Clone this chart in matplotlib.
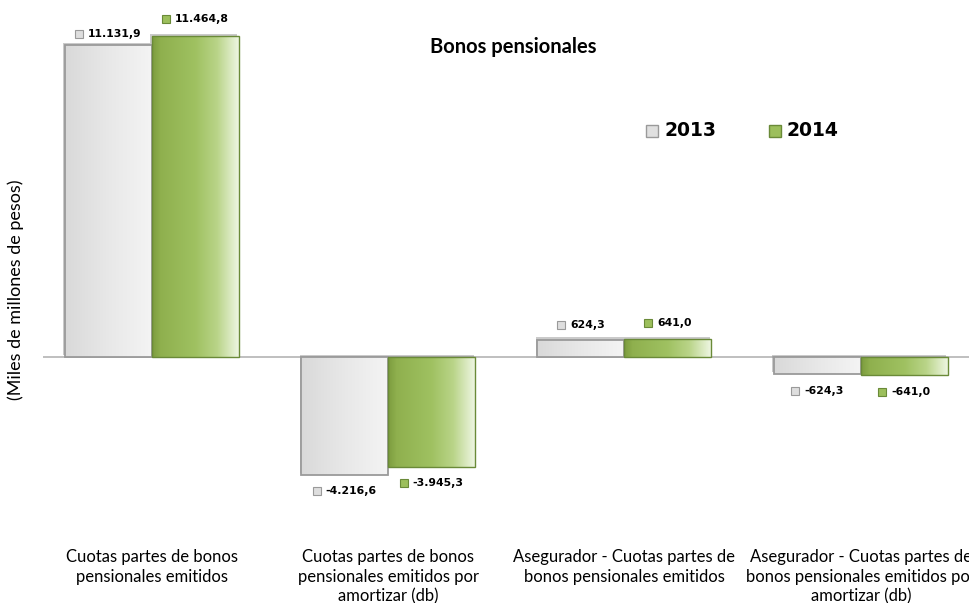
import numpy as np
import matplotlib
matplotlib.use("Agg")
import matplotlib.pyplot as plt
from matplotlib.colors import LinearSegmentedColormap
from matplotlib.patches import Rectangle
import matplotlib.patheffects as pe
import matplotlib.transforms as mtrans

categories = [
    "Cuotas partes de bonos\npensionales emitidos",
    "Cuotas partes de bonos\npensionales emitidos por\namortizar (db)",
    "Asegurador - Cuotas partes de\nbonos pensionales emitidos",
    "Asegurador - Cuotas partes de\nbonos pensionales emitidos por\namortizar (db)",
]
series_names = ["2013", "2014"]
values_2013 = [11131.9, -4216.6, 624.3, -624.3]
values_2014 = [11464.8, -3945.3, 641.0, -641.0]
labels_2013 = ["11.131,9", "-4.216,6", "624,3", "-624,3"]
labels_2014 = ["11.464,8", "-3.945,3", "641,0", "-641,0"]
title = "Bonos pensionales"
ylabel = "(Miles de millones de pesos)"

W, H = 969, 603
fig = plt.figure(figsize=(W / 100, H / 100), dpi=100)
fig.patch.set_facecolor("white")

ax_left, ax_right = 43, 979
ax_top, ax_bot = 10, 540
ax = fig.add_axes([ax_left / W, (H - ax_bot) / H, (ax_right - ax_left) / W, (ax_bot - ax_top) / H])
ax.set_facecolor("none")

zero_px = 357
ppu = 0.028  # pixels per unit
ymax = (zero_px - ax_top) / ppu
ymin = -(ax_bot - zero_px) / ppu

green_cmap = LinearSegmentedColormap.from_list(
    "g", [(0, "#7c9c3e"), (0.1, "#8fb04e"), (0.5, "#9fc161"), (0.75, "#b9d488"), (1, "#eef6e2")])
gray_cmap = LinearSegmentedColormap.from_list(
    "k", [(0, "#d9d9d9"), (0.5, "#e8e8e8"), (1, "#f4f4f4")])

x = np.arange(len(categories))
bw = 0.368

def draw_bars(xpos, vals, cmap, edge, lw, shadow_col):
    bars = ax.bar(xpos, vals, width=bw, color="white", edgecolor="none", zorder=2)
    grad = np.linspace(0, 1, 256).reshape(1, -1)
    for b in bars:
        x0, y0 = b.get_xy()
        w, h = b.get_width(), b.get_height()
        b.set_path_effects([pe.SimplePatchShadow(offset=(-1, 1.5), shadow_rgbFace=shadow_col, alpha=0.45), pe.Normal()])
        im = ax.imshow(grad, cmap=cmap, extent=[x0, x0 + w, min(y0, y0 + h), max(y0, y0 + h)],
                       aspect="auto", zorder=3, interpolation="bilinear")
        im.set_clip_path(b)
    ax.bar(xpos, vals, width=bw, color="none", edgecolor=edge, linewidth=lw, zorder=4)
    return bars

ax.axhline(0, color="#b4b4b4", linewidth=1.2, zorder=1)
bars13 = draw_bars(x - bw / 2, values_2013, gray_cmap, "#9a9a9a", 1.3, "#8a8a8a")
bars14 = draw_bars(x + bw / 2, values_2014, green_cmap, "#6a8a38", 1.0, "#8a8a8a")

ax.set_xlim(-0.46, 3.5)
ax.set_ylim(ymin, ymax)
ax.set_xticks([])
ax.set_yticks([])
for s in ax.spines.values():
    s.set_visible(False)

val_font = dict(family="DejaVu Sans", fontweight="bold", fontsize=7.8)
m_px, gap_px = 8, 5

def value_label(bar, text, fc, ec, off):
    cx = bar.get_x() + bar.get_width() / 2
    v = bar.get_height()
    dy = off if v >= 0 else -off
    t = ax.annotate(text, xy=(cx, v), xytext=((m_px + gap_px) / 2, dy), textcoords="offset pixels",
                    ha="center", va="center", zorder=6, color="black", **val_font)
    return t, fc, ec

offsets13 = [11, 16, 15, 17]
offsets14 = [17, 16, 16, 17]
items = []
for b, lab, o in zip(bars13, labels_2013, offsets13):
    items.append(value_label(b, lab, "#dedede", "#9a9a9a", o))
for b, lab, o in zip(bars14, labels_2014, offsets14):
    items.append(value_label(b, lab, "#9cbf5c", "#6a8a38", o))
fig.canvas.draw()
renderer = fig.canvas.get_renderer()
for t, fc, ec in items:
    bb = t.get_window_extent(renderer)
    cxp = bb.x0 - gap_px - m_px / 2
    cyp = (bb.y0 + bb.y1) / 2
    fig.add_artist(Rectangle(((cxp - m_px / 2) / W, (cyp - m_px / 2) / H), m_px / W, m_px / H,
                             transform=fig.transFigure, facecolor=fc, edgecolor=ec, linewidth=0.8, zorder=7))

# Category labels (line by line)
blend = mtrans.blended_transform_factory(ax.transData, fig.transFigure)
line_y = [557, 577, 596]
for i, c in enumerate(categories):
    for j, line in enumerate(c.split("\n")):
        ax.text(i, 1 - line_y[j] / H, line, transform=blend, ha="center", va="center",
                fontsize=12, family="Lato", clip_on=False)

# Title
fig.text(513 / W, 1 - 47 / H, title, ha="center", va="center", fontsize=14.5, family="Lato", fontweight="bold")
# Y label
fig.text(16 / W, 1 - 290 / H, ylabel, ha="center", va="center", rotation=90, fontsize=13, family="Lato")

# Legend
leg_items = [(652, "#e0e0e0", "#9a9a9a", series_names[0]), (775, "#9cbf5c", "#6a8a38", series_names[1])]
for mx, fc, ec, name in leg_items:
    s = 12
    fig.add_artist(Rectangle(((mx - s / 2) / W, (H - 131 - s / 2) / H), s / W, s / H,
                             transform=fig.transFigure, facecolor=fc, edgecolor=ec, linewidth=1))
    fig.text((mx + 12) / W, 1 - 131 / H, name, ha="left", va="center", fontsize=13.5,
             family="DejaVu Sans", fontweight="bold")

fig.savefig("out.png", dpi=100, facecolor="white")
